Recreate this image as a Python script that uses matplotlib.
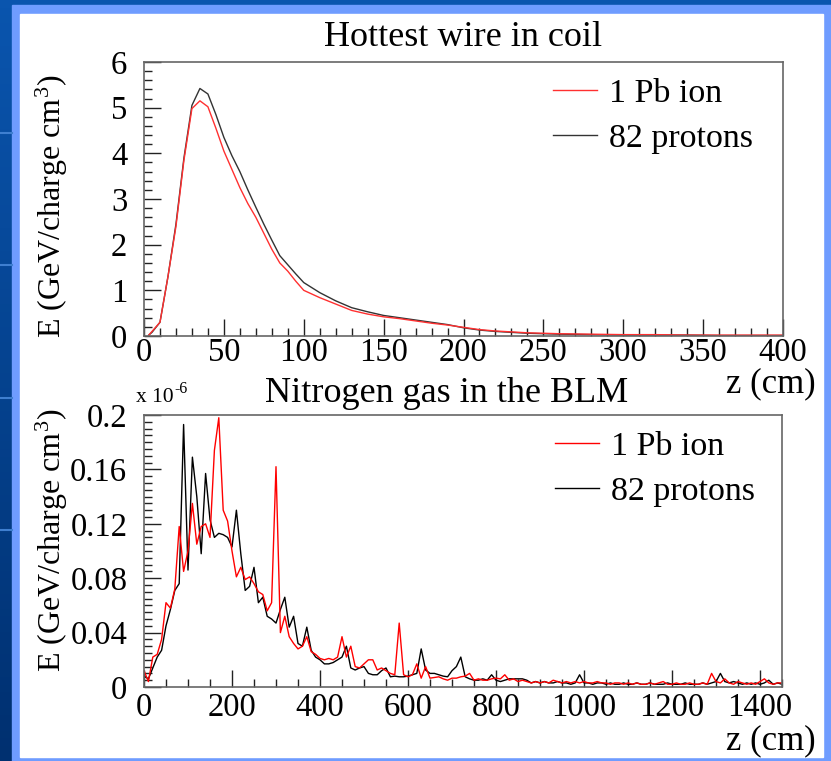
import matplotlib.pyplot as plt
import numpy as np
from matplotlib.patches import Rectangle
from matplotlib.ticker import MultipleLocator
from matplotlib.colors import LinearSegmentedColormap

plt.rcParams['font.family'] = ['Liberation Serif', 'DejaVu Serif']
plt.rcParams['mathtext.fontset'] = 'custom'
plt.rcParams['mathtext.rm'] = 'Liberation Serif'
plt.rcParams['mathtext.it'] = 'Liberation Serif:italic'

# --- hottest wire in coil (GeV/charge cm3) ---
z_coil = [3, 5, 10, 15, 20, 25, 30, 35, 40, 45, 50, 55, 60, 65, 70, 75, 80, 85, 90, 95,
          100, 110, 120, 130, 140, 150, 160, 170, 180, 190, 200, 210, 220, 240, 260,
          280, 300, 320, 340, 360, 380, 400]
coil_pb = [0.02, 0.1, 0.3, 1.3, 2.4, 3.85, 4.98, 5.15, 5.02, 4.55, 4.05, 3.65, 3.25, 2.9,
           2.6, 2.25, 1.9, 1.6, 1.42, 1.2, 1.0, 0.84, 0.7, 0.56, 0.48, 0.42, 0.38, 0.33,
           0.28, 0.24, 0.19, 0.14, 0.11, 0.07, 0.05, 0.04, 0.03, 0.03, 0.02, 0.02, 0.02, 0.02]
coil_p = [0.02, 0.08, 0.3, 1.3, 2.45, 3.9, 5.05, 5.42, 5.3, 4.85, 4.35, 3.95, 3.6, 3.2,
          2.82, 2.45, 2.1, 1.76, 1.56, 1.36, 1.17, 0.95, 0.77, 0.62, 0.53, 0.45, 0.4, 0.35,
          0.3, 0.25, 0.18, 0.13, 0.1, 0.06, 0.04, 0.03, 0.02, 0.02, 0.02, 0.01, 0.01, 0.01]

# --- nitrogen gas in the BLM (x 1e-6 GeV/charge cm3), bins of 10 cm from z = 0 ---
blm_pb = [0.012, 0.004, 0.022, 0.024, 0.035, 0.062, 0.058, 0.072, 0.118, 0.085,
          0.1, 0.135, 0.105, 0.118, 0.12, 0.11, 0.174, 0.198, 0.13, 0.122,
          0.1, 0.081, 0.088, 0.079, 0.081, 0.076, 0.07, 0.068, 0.056, 0.062,
          0.162, 0.04, 0.052, 0.037, 0.032, 0.028, 0.03, 0.037, 0.026, 0.024,
          0.021, 0.02, 0.021, 0.02, 0.022, 0.037, 0.022, 0.03, 0.015, 0.014,
          0.017, 0.02, 0.02, 0.0125, 0.014, 0.012, 0.01, 0.009, 0.047, 0.009,
          0.0075, 0.009, 0.017, 0.0065, 0.015, 0.0065, 0.007, 0.0075, 0.006, 0.005,
          0.0065, 0.0065, 0.0075, 0.008, 0.01, 0.005, 0.006, 0.005, 0.005, 0.006,
          0.0065, 0.006, 0.009, 0.005, 0.006, 0.004, 0.005, 0.004, 0.003, 0.004,
          0.003, 0.004, 0.003, 0.005, 0.004, 0.003, 0.004, 0.003, 0.004, 0.003,
          0.004, 0.003, 0.003, 0.004, 0.003, 0.003, 0.002, 0.003, 0.003, 0.002,
          0.003, 0.002, 0.003, 0.002, 0.002, 0.003, 0.002, 0.003, 0.004, 0.002,
          0.002, 0.003, 0.002, 0.002, 0.003, 0.002, 0.002, 0.003, 0.002, 0.01,
          0.004, 0.003, 0.006, 0.003, 0.002, 0.004, 0.003, 0.002, 0.003, 0.002,
          0.004, 0.006, 0.003, 0.002, 0.003, 0.003]
blm_p = [0.008, 0.006, 0.014, 0.022, 0.027, 0.045, 0.057, 0.071, 0.076, 0.193,
         0.086, 0.169, 0.14, 0.098, 0.157, 0.123, 0.11, 0.113, 0.112, 0.11,
         0.103, 0.13, 0.098, 0.071, 0.074, 0.088, 0.062, 0.066, 0.052, 0.05,
         0.047, 0.057, 0.066, 0.044, 0.052, 0.032, 0.03, 0.044, 0.027, 0.022,
         0.02, 0.017, 0.017, 0.018, 0.02, 0.022, 0.03, 0.014, 0.0125, 0.014,
         0.015, 0.01, 0.009, 0.009, 0.012, 0.014, 0.0075, 0.008, 0.0075, 0.0075,
         0.008, 0.009, 0.01, 0.028, 0.0125, 0.01, 0.01, 0.009, 0.008, 0.0075,
         0.012, 0.015, 0.022, 0.0075, 0.006, 0.005, 0.005, 0.006, 0.005, 0.009,
         0.005, 0.004, 0.005, 0.006, 0.006, 0.006, 0.006, 0.005, 0.003, 0.004,
         0.003, 0.004, 0.003, 0.003, 0.004, 0.003, 0.003, 0.002, 0.003, 0.009,
         0.003, 0.003, 0.002, 0.003, 0.003, 0.002, 0.003, 0.002, 0.002, 0.003,
         0.002, 0.002, 0.003, 0.002, 0.002, 0.003, 0.002, 0.002, 0.002, 0.003,
         0.002, 0.002, 0.002, 0.003, 0.002, 0.002, 0.002, 0.003, 0.002, 0.003,
         0.004, 0.01, 0.004, 0.003, 0.004, 0.003, 0.002, 0.003, 0.002, 0.003,
         0.002, 0.003, 0.005, 0.002, 0.003, 0.002]
z_blm = np.arange(len(blm_pb)) * 10

W, H = 831, 761
fig = plt.figure(figsize=(W / 100, H / 100), dpi=100)

# slide background
bg = fig.add_axes([0, 0, 1, 1])
bg.set_xlim(0, W)
bg.set_ylim(H, 0)
bg.axis('off')
cmap = LinearSegmentedColormap.from_list('slide', ['#0a55ae', '#003070'])
bg.imshow(np.linspace(0, 1, 100).reshape(-1, 1), extent=[0, W, H, 0],
          cmap=cmap, aspect='auto')
for yy in [133, 265, 398, 530]:
    bg.plot([0, 12], [yy, yy], color='#3f7fd0', lw=1.5)
bg.add_patch(Rectangle((12, 5), W - 12, H - 5, color='#6f9cff'))
bg.add_patch(Rectangle((20, 14), 803, 743, color='white'))


def style(ax):
    ax.tick_params(which='both', direction='in', top=False, right=False,
                   labelsize=23.5, color='#222222', width=1)
    ax.tick_params(which='major', length=12)
    ax.tick_params(which='minor', length=6)
    ax.tick_params(axis='y', pad=12)
    for s in ax.spines.values():
        s.set_color('#666666')
        s.set_linewidth(1.2)


leg_kw = dict(loc='upper left', bbox_transform=fig.transFigure, frameon=False,
              fontsize=24.5, handlelength=1.3, handletextpad=0.35, labelspacing=0.43,
              borderpad=0, borderaxespad=0)

# top panel
ax1 = fig.add_axes([144 / W, 1 - 336 / H, 639 / W, 274 / H])
lp1, = ax1.plot(z_coil, coil_p, color='#333333', lw=1.0, label='82 protons')
lr1, = ax1.plot(z_coil, coil_pb, color='#ff3030', lw=1.0, label='1 Pb ion')
ax1.set_xlim(0, 400)
ax1.set_ylim(0, 6)
ax1.xaxis.set_major_locator(MultipleLocator(50))
ax1.xaxis.set_minor_locator(MultipleLocator(10))
ax1.yaxis.set_major_locator(MultipleLocator(1))
ax1.yaxis.set_minor_locator(MultipleLocator(0.2))
style(ax1)
ax1.tick_params(axis='x', pad=1)
ax1.legend(handles=[lr1, lp1], bbox_to_anchor=(553 / W, 1 - 78 / H), **leg_kw)

# bottom panel
ax2 = fig.add_axes([144 / W, 1 - 687 / H, 638 / W, 272 / H])
lp2, = ax2.plot(z_blm, blm_p, color='black', lw=1.0, label='82 protons')
lr2, = ax2.plot(z_blm, blm_pb, color='red', lw=1.0, label='1 Pb ion')
ax2.set_xlim(0, 1450)
ax2.set_ylim(0, 0.2)
ax2.xaxis.set_major_locator(MultipleLocator(200))
ax2.xaxis.set_minor_locator(MultipleLocator(50))
ax2.yaxis.set_minor_locator(MultipleLocator(0.005))
ax2.set_yticks([0, 0.04, 0.08, 0.12, 0.16, 0.2])
ax2.set_yticklabels(['0', '0.04', '0.08', '0.12', '0.16', '0.2'])
style(ax2)
ax2.tick_params(axis='x', pad=4)
ax2.legend(handles=[lr2, lp2], bbox_to_anchor=(555 / W, 1 - 431 / H), **leg_kw)

# texts
fig.text(463 / W, 1 - 38 / H, 'Hottest wire in coil', ha='center', va='center', fontsize=26)
fig.text(447 / W, 1 - 393 / H, 'Nitrogen gas in the BLM', ha='center', va='center', fontsize=26)
fig.text(816 / W, 1 - 384 / H, 'z (cm)', ha='right', va='center', fontsize=25)
fig.text(816 / W, 1 - 741 / H, 'z (cm)', ha='right', va='center', fontsize=25)
fig.text(136 / W, 1 - 397 / H, 'x 10', ha='left', va='center', fontsize=15.5)
fig.text(174 / W, 1 - 389 / H, '-6', ha='left', va='center', fontsize=11.5)
fig.text(52 / W, 1 - 206 / H, 'E (GeV/charge cm$^3$)', rotation=90,
         ha='center', va='center', fontsize=23)
fig.text(52 / W, 1 - 540 / H, 'E (GeV/charge cm$^3$)', rotation=90,
         ha='center', va='center', fontsize=23)

fig.savefig('out.png', dpi=100)
